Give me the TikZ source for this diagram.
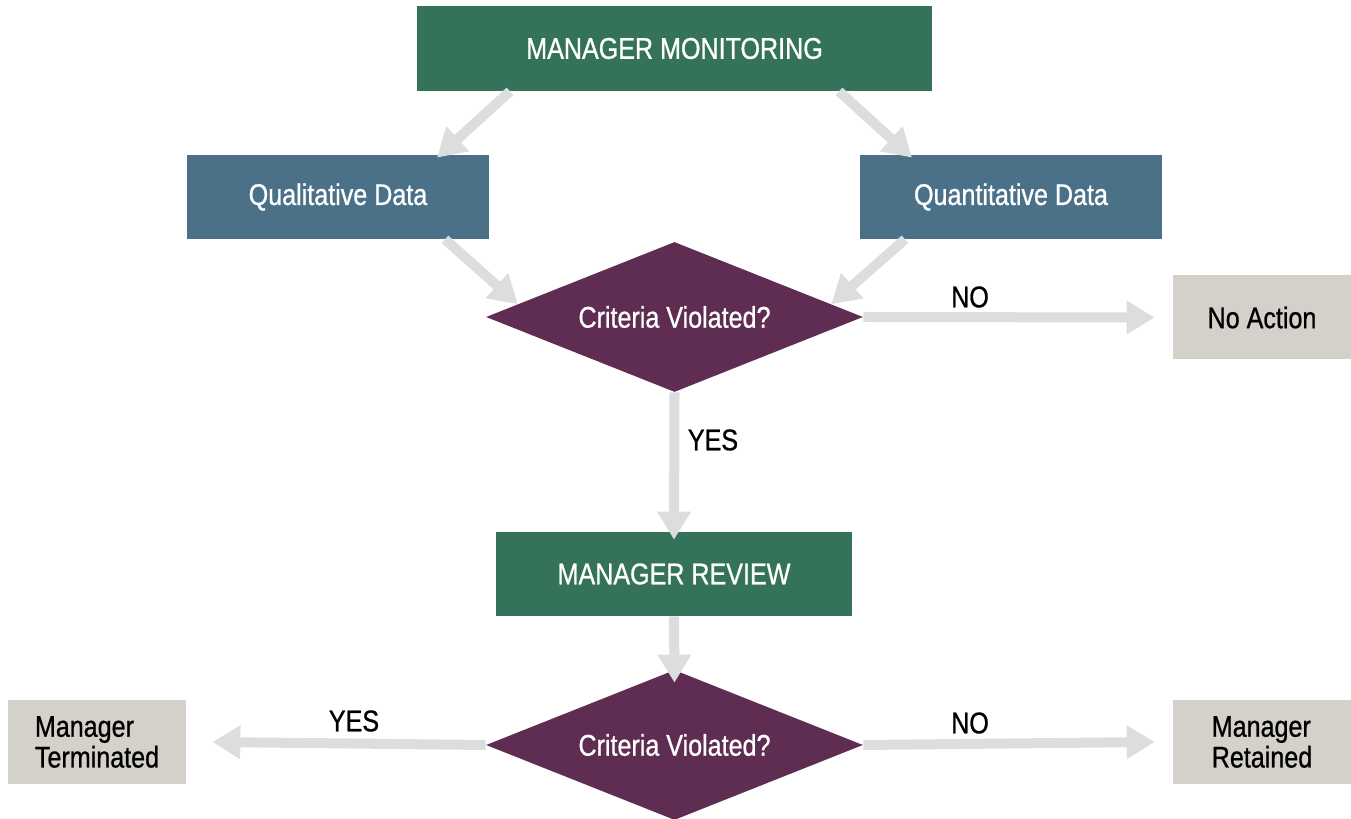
\documentclass[tikz,border=0pt]{standalone}
\usepackage{fontspec}
\setmainfont{Liberation Sans}[FakeStretch=0.84, FakeBold=0.8]
\usetikzlibrary{arrows.meta,calc,shapes.geometric}

\definecolor{stepgreen}{HTML}{347359}
\definecolor{databluegray}{HTML}{4B7189}
\definecolor{askpurple}{HTML}{5F2D51}
\definecolor{endgray}{HTML}{D4D1CA}
\definecolor{flowgray}{HTML}{DCDDDF}

\begin{document}
\begin{tikzpicture}[
    flow/.style={draw=flowgray, line width=0.2cm, -{Triangle[length=0.56cm, width=0.64cm]}},
    box/.style={rectangle, inner sep=0pt, text=white, font=\fontsize{17}{17.5}\selectfont},
    stepbox/.style={box, fill=stepgreen},
    databox/.style={box, fill=databluegray, minimum width=6.04cm, minimum height=1.68cm},
    ask/.style={diamond, aspect=2.51, inner sep=0pt, fill=askpurple, text=white, minimum width=7.54cm, minimum height=3cm, font=\fontsize{17}{17.5}\selectfont},
    endbox/.style={box, fill=endgray, text=black, align=left, minimum width=3.56cm, minimum height=1.68cm},
    lbl/.style={font=\fontsize{17}{17.5}\selectfont}]

    % the frame of the page
    \useasboundingbox (0,0) rectangle (27.02,16.38);

    % The top step -> monitoring
    \node[stepbox, minimum width=10.3cm, minimum height=1.7cm] (monitor) at (13.49, 15.41) {MANAGER MONITORING};

    % the two data boxes
    \node[databox] (qual) at (6.76, 12.44) {Qualitative Data};
    \node[databox] (quant) at (20.22, 12.44) {Quantitative Data};

    % the first question
    \node[ask] (check1) at (13.49, 10.04) {Criteria Violated?};
    \node[endbox] (noaction) at (25.24, 10.03) {No Action};

    % the review step
    \node[stepbox, minimum width=7.12cm, minimum height=1.68cm] (review) at (13.48, 4.90) {MANAGER REVIEW};

    % the second question and its two ends
    \node[ask] (check2) at (13.49, 1.48) {Criteria Violated?};
    \node[endbox] (fired) at (1.94, 1.54) {Manager\\Terminated};
    \node[endbox] (kept) at (25.24, 1.54) {Manager\\Retained};

    % Arrows from monitoring to the data boxes
    \draw[flow] ([xshift=-3.29cm]monitor.south) -- ([xshift=1.98cm, yshift=-0.06cm]qual.north);
    \draw[flow] ([xshift=3.29cm]monitor.south) -- ([xshift=-1.98cm, yshift=-0.06cm]quant.north);

    % Arrows from the data boxes to the first question
    \draw[flow] ([xshift=2.14cm]qual.south) -- ($(check1.west)!0.17!(check1.north)$);
    \draw[flow] ([xshift=-2.12cm]quant.south) -- ($(check1.east)!0.17!(check1.north)$);

    % The answers of the first question
    \draw[flow] (check1.east) -- ([xshift=-0.36cm]noaction.west);
    \node[lbl] (no1) at (19.4, 10.44) {NO};
    \draw[flow] (check1.south) -- ([yshift=-0.16cm]review.north);
    \node[lbl] (yes1) at (14.26, 7.58) {YES};

    % Arrow from review to the second question
    \draw[flow] (review.south) -- ([yshift=-0.26cm]check2.north);

    % The answers of the second question
    \draw[flow] (check2.west) -- ([xshift=0.52cm]fired.east);
    \node[lbl] (yes2) at (7.08, 1.96) {YES};
    \draw[flow] (check2.east) -- ([xshift=-0.36cm]kept.west);
    \node[lbl] (no2) at (19.4, 1.92) {NO};
\end{tikzpicture}
\end{document}
